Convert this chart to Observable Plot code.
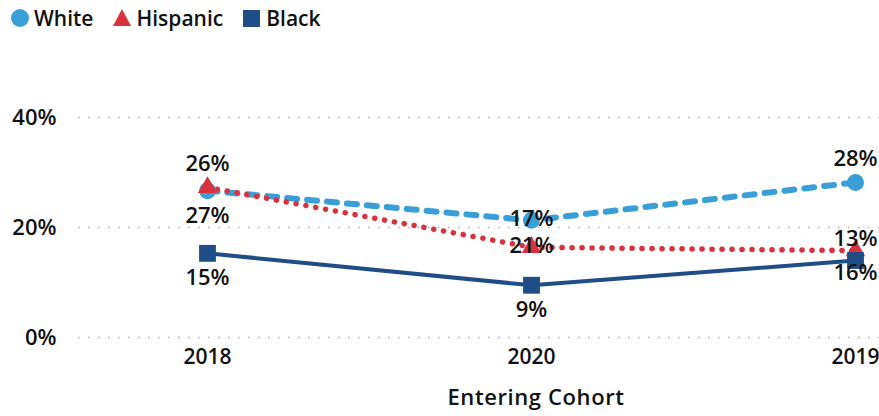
<!DOCTYPE html>
<html><head><meta charset="utf-8">
<script src="https://cdn.jsdelivr.net/npm/d3@7"></script>
<script src="https://cdn.jsdelivr.net/npm/@observablehq/plot@0.6"></script>
<style>
body{margin:0;background:#fff;font-family:"Open Sans",sans-serif;}
#wrap{position:relative;width:879px;height:416px;}
#legend{height:36px;display:flex;align-items:center;padding-left:10px;font-size:21px;font-weight:600;color:#111;}
#legend .it{display:flex;align-items:center;margin-right:19px;}
#legend svg{margin-right:4px;}
#xtitle{position:absolute;left:536px;top:381px;transform:translateX(-50%);font-size:22px;font-weight:600;color:#111;white-space:nowrap;letter-spacing:0.6px;}
</style></head>
<body><div id="wrap"><div id="legend"></div><div id="chart"></div><div id="xtitle">Entering Cohort</div></div>
<script>
const cohorts = ["2018", "2020", "2019"];
const seriesNames = ["White", "Hispanic", "Black"];
const white = [26.7, 21.3, 28.2];
const hispanic = [27.3, 16.4, 15.8];
const black = [15.3, 9.5, 14.0];
const whiteLabels = ["27%", "17%", "28%"];
const hispanicLabels = ["26%", "21%", "13%"];
const blackLabels = ["15%", "9%", "16%"];
const whitePlace = ["below", "center", "above"];
const hispanicPlace = ["above", "center", "aboveNear"];
const blackPlace = ["below", "below", "belowNear"];
const yTicks = [0, 20, 40];

const colors = {White: "#3a9fd6", Hispanic: "#d9323e", Black: "#1f4e87"};
const values = {White: white, Hispanic: hispanic, Black: black};
const labels = {White: whiteLabels, Hispanic: hispanicLabels, Black: blackLabels};
const places = {White: whitePlace, Hispanic: hispanicPlace, Black: blackPlace};

const rows = [];
for (const s of seriesNames) cohorts.forEach((c, i) => rows.push({series: s, cohort: c, value: values[s][i], label: labels[s][i], place: places[s][i]}));

const offsets = {above: -23, below: 25, center: -1, aboveNear: -12, belowNear: 12};
const bySeries = s => rows.filter(d => d.series === s);

const lineStyles = {
  White: {strokeWidth: 6, strokeDasharray: "10,10"},
  Hispanic: {strokeWidth: 5.5, strokeDasharray: "0.1,9.9", strokeLinecap: "round"},
  Black: {strokeWidth: 4}
};
const dotStyles = {
  White: {symbol: "circle", r: 8.5},
  Hispanic: {symbol: "triangle", r: 7.2},
  Black: {symbol: "square", r: 9.5}
};

const marks = [
  Plot.ruleY(yTicks, {stroke: "#b8b8b8", strokeWidth: 1.6, strokeDasharray: "1.6,8.4"})
];
for (const s of seriesNames) {
  marks.push(Plot.line(bySeries(s), {x: "cohort", y: "value", stroke: colors[s], ...lineStyles[s]}));
}
for (const s of seriesNames) {
  marks.push(Plot.dot(bySeries(s), {x: "cohort", y: "value", fill: colors[s], stroke: "none", ...dotStyles[s]}));
}
for (const p of Object.keys(offsets)) {
  marks.push(Plot.text(rows.filter(d => d.place === p), {x: "cohort", y: "value", text: "label", dy: offsets[p], fontSize: 22, fontWeight: 600, fill: "#111"}));
}
marks.push(Plot.axisY({ticks: yTicks, tickFormat: d => d + "%", tickSize: 0, tickPadding: 22, fontSize: 22, fontWeight: 600, label: null, color: "#111"}));
marks.push(Plot.axisX({tickSize: 0, tickPadding: 12, fontSize: 21, fontWeight: 600, label: null, color: "#111"}));

const chart = Plot.plot({
  width: 879, height: 380,
  marginLeft: 78, marginRight: 0, marginTop: 81, marginBottom: 79,
  style: {fontFamily: "Open Sans, sans-serif", color: "#111", background: "#fff", overflow: "visible"},
  x: {type: "point", domain: cohorts, range: [207, 855], padding: 0},
  y: {domain: [0, 40]},
  marks
});
document.getElementById("chart").appendChild(chart);

// legend
const leg = document.getElementById("legend");
const shapes = {
  White: c => `<circle cx="10" cy="10" r="9" fill="${c}"/>`,
  Hispanic: c => `<path d="M10,1 L19,18 L1,18 Z" fill="${c}"/>`,
  Black: c => `<rect x="1" y="2" width="17" height="17" fill="${c}"/>`
};
for (const s of seriesNames) {
  const it = document.createElement("div");
  it.className = "it";
  it.innerHTML = `<svg width="20" height="20">${shapes[s](colors[s])}</svg><span>${s}</span>`;
  leg.appendChild(it);
}
</script></body></html>
